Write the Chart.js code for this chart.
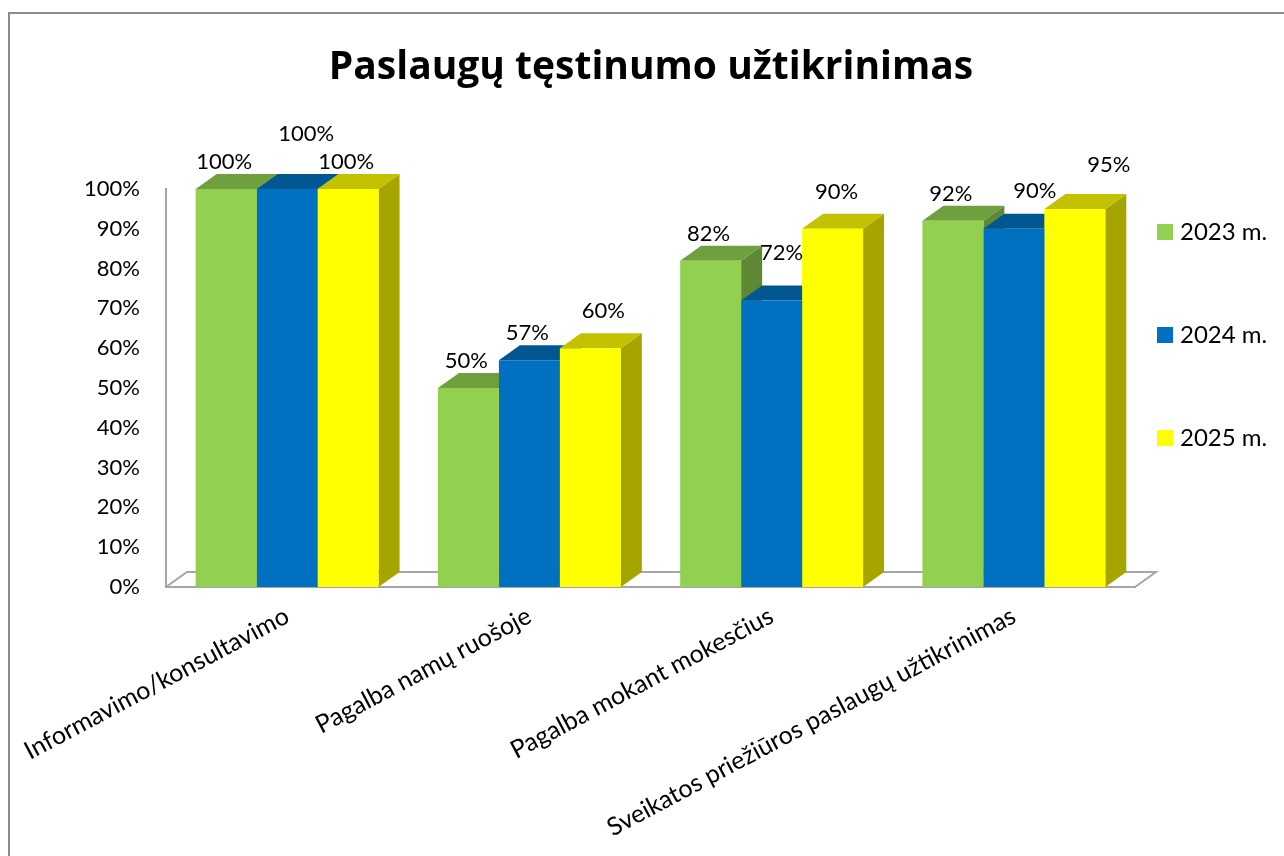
<!DOCTYPE html>
<html>
<head>
<meta charset="utf-8">
<script src="https://cdn.jsdelivr.net/npm/chart.js@4.4.1/dist/chart.umd.min.js"></script>
<style>
    body { margin: 0; background: #ffffff; }
    #wrap { position: relative; width: 1284px; height: 856px; }
</style>
</head>
<body>
<div id="wrap"><canvas id="grafikas"></canvas></div>
<script>
// duomenys
var kategorijos = ['Informavimo/konsultavimo', 'Pagalba namų ruošoje', 'Pagalba mokant mokesčius', 'Sveikatos priežiūros paslaugų užtikrinimas'];
var metai = ['2023 m.', '2024 m.', '2025 m.'];
var reiksmes2023 = [100, 50, 82, 92];
var reiksmes2024 = [100, 57, 72, 90];
var reiksmes2025 = [100, 60, 90, 95];

// spalvos: priekis, virsus, sonas
var priekis = ['#92d050', '#0070c0', '#ffff00'];
var virsus = ['#70a03e', '#005792', '#c4c200'];
var sonas = ['#5f8834', '#00497c', '#a6a500'];

var sriftas = "Lato, 'Open Sans', sans-serif";
Chart.defaults.font.family = sriftas;
Chart.defaults.color = '#000000';

var trimatis = {
    id: 'trimatis',
    beforeDraw: function(chart) {
        var ctx = chart.ctx;
        ctx.save();
        ctx.strokeStyle = '#8c8c8c';
        ctx.lineWidth = 2;
        ctx.strokeRect(9, 13, 1400, 1000);
        ctx.restore();
    },
    beforeDatasetsDraw: function(chart, args, opts) {
        var ctx = chart.ctx;
        var a = chart.chartArea;
        var dx = opts.dx, dy = opts.dy;
        ctx.save();
        // grindys
        ctx.strokeStyle = '#a6a6a6';
        ctx.lineWidth = 2;
        ctx.beginPath();
        ctx.moveTo(a.left, a.bottom);
        ctx.lineTo(a.left + dx, a.bottom - dy);
        ctx.lineTo(a.right + dx, a.bottom - dy);
        ctx.lineTo(a.right, a.bottom);
        ctx.stroke();
        // sonai ir virsai
        for (var i = 0; i < chart.data.labels.length; i++) {
            for (var d = 0; d < chart.data.datasets.length; d++) {
                var bar = chart.getDatasetMeta(d).data[i];
                var l = bar.x - bar.width / 2, r = bar.x + bar.width / 2;
                var t = bar.y, b = bar.base;
                ctx.fillStyle = sonas[d];
                ctx.beginPath();
                ctx.moveTo(r, t);
                ctx.lineTo(r + dx, t - dy);
                ctx.lineTo(r + dx, b - dy);
                ctx.lineTo(r, b);
                ctx.closePath();
                ctx.fill();
                ctx.fillStyle = virsus[d];
                ctx.beginPath();
                ctx.moveTo(l, t);
                ctx.lineTo(l + dx, t - dy);
                ctx.lineTo(r + dx, t - dy);
                ctx.lineTo(r, t);
                ctx.closePath();
                ctx.fill();
            }
        }
        ctx.restore();
    },
    afterDatasetsDraw: function(chart, args, opts) {
        var ctx = chart.ctx;
        ctx.save();
        ctx.font = '22px ' + sriftas;
        ctx.fillStyle = '#000000';
        ctx.textAlign = 'center';
        ctx.textBaseline = 'middle';
        chart.data.datasets.forEach(function(ds, d) {
            chart.getDatasetMeta(d).data.forEach(function(bar, i) {
                var n = opts.nudge[d][i];
                ctx.fillText(ds.data[i] + '%', bar.x - 2 + n[0], bar.y - 27 + n[1]);
            });
        });
        // legenda
        var lg = opts.legenda;
        ctx.font = '24px ' + sriftas;
        chart.data.datasets.forEach(function(ds, d) {
            var cy = lg.y + d * lg.tarpas;
            ctx.fillStyle = ds.backgroundColor;
            ctx.fillRect(lg.x, cy - 8, 16, 16);
            ctx.fillStyle = '#000000';
            ctx.textAlign = 'left';
            ctx.fillText(ds.label, lg.x + 23, cy);
        });
        ctx.restore();
    }
};

var ctx = document.getElementById('grafikas');
var grafikas = new Chart(ctx, {
    type: 'bar',
    data: {
        labels: kategorijos,
        datasets: [
            { label: metai[0], data: reiksmes2023, backgroundColor: priekis[0] },
            { label: metai[1], data: reiksmes2024, backgroundColor: priekis[1] },
            { label: metai[2], data: reiksmes2025, backgroundColor: priekis[2] }
        ]
    },
    options: {
        responsive: true,
        maintainAspectRatio: false,
        animation: false,
        layout: { padding: { left: 18, right: 0, top: 0, bottom: 0 } },
        datasets: {
            bar: { categoryPercentage: 0.755, barPercentage: 1, borderWidth: 0 }
        },
        scales: {
            x: {
                grid: { display: false, drawTicks: false },
                border: { display: true, color: '#a6a6a6', width: 2 },
                ticks: { font: { size: 25 }, color: '#000000', minRotation: 28, maxRotation: 28, padding: 14 },
                afterFit: function(s) { s.height = 856 - 587; s.paddingLeft = 0; s.paddingRight = 0; }
            },
            y: {
                min: 0,
                max: 100,
                grid: { display: false, drawTicks: false },
                border: { display: true, color: '#a6a6a6', width: 2 },
                ticks: {
                    stepSize: 10,
                    padding: 26,
                    font: { size: 22 },
                    color: '#000000',
                    callback: function(v) { return v + '%'; }
                },
                afterFit: function(s) { s.width = 166 - 18; s.paddingTop = 0; s.paddingBottom = 0; }
            },
            // vieta legendai desineje
            vieta: {
                type: 'linear',
                position: 'right',
                grid: { display: false, drawTicks: false },
                border: { display: false },
                ticks: { display: false },
                afterFit: function(s) { s.width = 1284 - 1135; s.paddingTop = 0; s.paddingBottom = 0; }
            }
        },
        plugins: {
            legend: { display: false },
            tooltip: { enabled: false },
            title: {
                display: true,
                text: 'Paslaugų tęstinumo užtikrinimas',
                font: { family: "'Open Sans', Lato, sans-serif", size: 39, weight: 'bold' },
                color: '#000000',
                padding: { top: 44, bottom: 98.2 }
            },
            trimatis: {
                dx: 21,
                dy: 15,
                nudge: [
                    [[0, 0], [0, 0], [0, 0], [0, 0]],
                    [[21, -28], [0, 0], [12, -21], [23, -11]],
                    [[0, 0], [15, -10], [6, -10], [36, -17]]
                ],
                legenda: { x: 1157, y: 232, tarpas: 103 }
            }
        }
    },
    plugins: [trimatis]
});
</script>
</body>
</html>
